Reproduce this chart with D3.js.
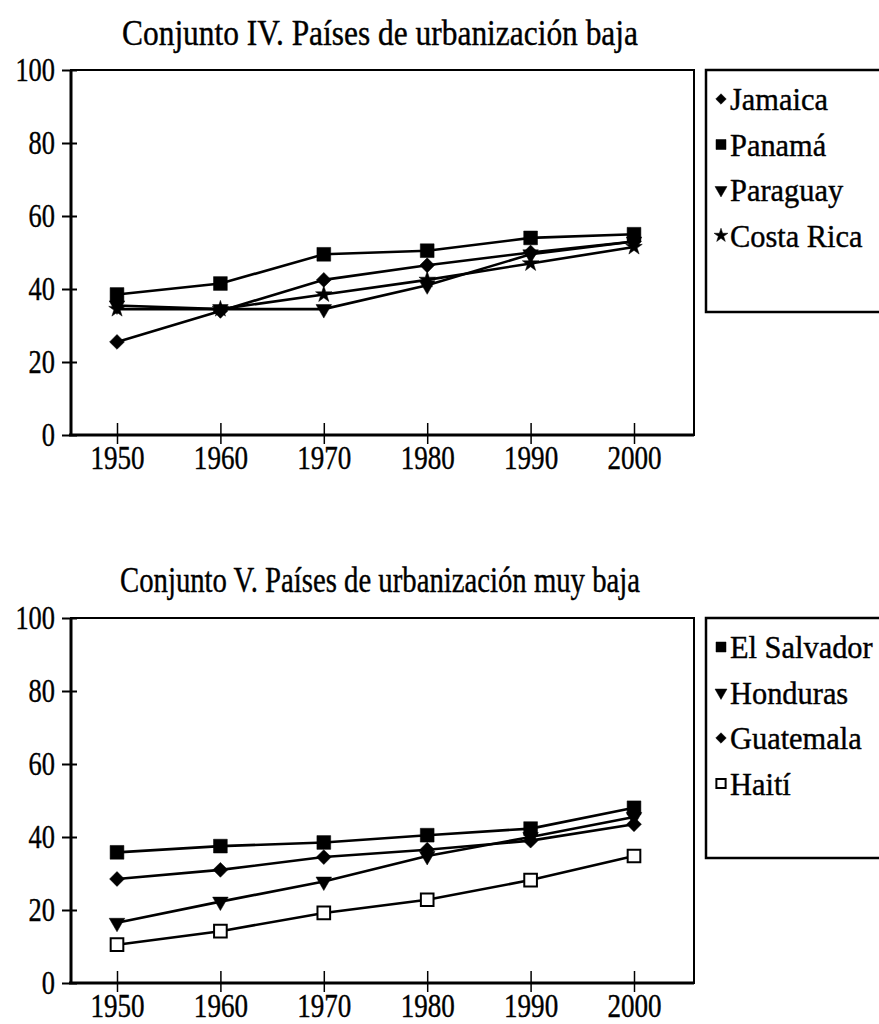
<!DOCTYPE html>
<html>
<head>
<meta charset="utf-8">
<script src="https://cdn.jsdelivr.net/npm/d3@7"></script>
<style>
  body { margin: 0; background: #fff; }
  text { font-family: "Liberation Serif", "DejaVu Serif", serif; fill: #000; stroke: #000; stroke-width: 0.4; }
</style>
</head>
<body>
<div id="chart"></div>
<script>
// shared axes
var years = [1950, 1960, 1970, 1980, 1990, 2000];
var yTicks = [0, 20, 40, 60, 80, 100];

// Conjunto IV
var titleIV = "Conjunto IV. Países de urbanización baja";
var namesIV = ["Jamaica", "Panamá", "Paraguay", "Costa Rica"];
var jamaica = [25.5, 34, 42.5, 46.5, 50, 53];
var panama = [38.5, 41.5, 49.5, 50.5, 54, 55];
var paraguay = [35.5, 34.5, 34.5, 41, 49.5, 53];
var costaRica = [34.5, 34.5, 38.5, 42.5, 47, 51.5];

// Conjunto V
var titleV = "Conjunto V. Países de urbanización muy baja";
var namesV = ["El Salvador", "Honduras", "Guatemala", "Haití"];
var elSalvador = [35.8, 37.5, 38.5, 40.5, 42.3, 48];
var honduras = [16.5, 22.3, 27.8, 34.8, 40, 45.5];
var guatemala = [28.5, 31, 34.5, 36.5, 39, 43.5];
var haiti = [10.5, 14.2, 19.2, 22.8, 28.2, 34.8];

var svg = d3.select("#chart")
  .append("svg")
    .attr("width", 879)
    .attr("height", 1024);

svg.append("rect").attr("width", 879).attr("height", 1024).attr("fill", "#fff");

// marker shapes: [type, size in plot, size in legend, rotation, open?]
var shapes = {
  diamond:  { type: d3.symbolSquare,   big: 110, small: 55,  rot: 45,  open: false },
  square:   { type: d3.symbolSquare,   big: 190, small: 100, rot: 0,   open: false },
  triangle: { type: d3.symbolTriangle, big: 105, small: 62,  rot: 180, open: false },
  star:     { type: d3.symbolStar,     big: 85,  small: 60,  rot: 0,   open: false },
  open:     { type: d3.symbolSquare,   big: 160, small: 85,  rot: 0,   open: true }
};

// squeeze text horizontally like the condensed print face
function condense(sel, k) {
  sel.each(function() {
    var len = this.getComputedTextLength();
    d3.select(this)
      .attr("textLength", len * k)
      .attr("lengthAdjust", "spacingAndGlyphs");
  });
}

function marker(g, shape, x, y, big) {
  var s = shapes[shape];
  g.append("path")
    .attr("d", d3.symbol().type(s.type).size(big ? s.big : s.small)())
    .attr("transform", "translate(" + x + "," + y + ") rotate(" + s.rot + ")")
    .attr("fill", s.open ? "#fff" : "#000")
    .attr("stroke", "#000")
    .attr("stroke-width", s.open ? 2 : 0.5);
}

function panel(cfg) {
  var left = 71, right = 694;
  var x = d3.scaleLinear().domain([1950, 2000]).range([117, 634]);
  var y = d3.scaleLinear().domain([0, 100]).range([cfg.bottom, cfg.top]);

  // title
  svg.append("text")
    .attr("x", 380)
    .attr("y", cfg.titleY)
    .attr("text-anchor", "middle")
    .attr("font-size", 36)
    .text(cfg.title)
    .attr("textLength", cfg.titleW)
    .attr("lengthAdjust", "spacingAndGlyphs");

  // plot frame
  svg.append("rect")
    .attr("x", left).attr("y", cfg.top)
    .attr("width", right - left).attr("height", cfg.bottom - cfg.top)
    .attr("fill", "none").attr("stroke", "#000").attr("stroke-width", 2);
  svg.append("line")
    .attr("x1", left).attr("x2", left).attr("y1", cfg.top).attr("y2", cfg.bottom)
    .attr("stroke", "#000").attr("stroke-width", 3);
  svg.append("line")
    .attr("x1", left - 2).attr("x2", right).attr("y1", cfg.bottom).attr("y2", cfg.bottom)
    .attr("stroke", "#000").attr("stroke-width", 3);

  // y axis
  var yAxis = svg.append("g")
    .attr("transform", "translate(" + left + ",0)")
    .call(d3.axisLeft(y).tickValues(yTicks).tickSize(9).tickPadding(7))
  yAxis.select(".domain").remove();
  yAxis.selectAll(".tick line").attr("x2", -9).attr("x1", 6).attr("stroke-width", 2);
  yAxis.selectAll("text")
    .attr("font-family", "Liberation Serif")
    .attr("font-size", 33)
    .attr("fill", "#000")
    .call(condense, 0.8);

  // x axis
  var xAxis = svg.append("g")
    .attr("transform", "translate(0," + cfg.bottom + ")")
    .call(d3.axisBottom(x).tickValues(years).tickFormat(d3.format("d")).tickSize(9).tickPadding(2))
  xAxis.select(".domain").remove();
  xAxis.selectAll(".tick line").attr("y1", -12).attr("y2", 9).attr("stroke-width", 1.5);
  xAxis.selectAll("text")
    .attr("font-family", "Liberation Serif")
    .attr("font-size", 33)
    .attr("fill", "#000")
    .call(condense, 0.82);

  // series
  var line = d3.line()
    .x(function(d, i) { return x(years[i]); })
    .y(function(d) { return y(d); });

  cfg.series.forEach(function(s) {
    svg.append("path")
      .datum(s.values)
      .attr("fill", "none")
      .attr("stroke", "#000")
      .attr("stroke-width", 2.6)
      .attr("d", line);
  });
  cfg.series.forEach(function(s) {
    var g = svg.append("g");
    s.values.forEach(function(v, i) {
      marker(g, s.shape, x(years[i]), y(v), true);
    });
  });

  // legend
  svg.append("rect")
    .attr("x", 706).attr("y", cfg.top)
    .attr("width", 200).attr("height", cfg.legendH)
    .attr("fill", "none").attr("stroke", "#000").attr("stroke-width", 2.5);

  var lg = svg.append("g");
  cfg.series.forEach(function(s, i) {
    var cy = cfg.top + 29 + i * 45.5;
    marker(lg, s.shape, 721, cy, false);
    lg.append("text")
      .attr("x", 730)
      .attr("y", cy + 11)
      .attr("font-size", 32)
      .text(s.name)
      .call(condense, 0.95);
  });
}

panel({
  title: titleIV, titleY: 45, titleW: 516,
  top: 70, bottom: 435, legendH: 242,
  series: [
    { name: namesIV[0], values: jamaica, shape: "diamond" },
    { name: namesIV[1], values: panama, shape: "square" },
    { name: namesIV[2], values: paraguay, shape: "triangle" },
    { name: namesIV[3], values: costaRica, shape: "star" }
  ]
});

panel({
  title: titleV, titleY: 592, titleW: 520,
  top: 618, bottom: 983, legendH: 240,
  series: [
    { name: namesV[0], values: elSalvador, shape: "square" },
    { name: namesV[1], values: honduras, shape: "triangle" },
    { name: namesV[2], values: guatemala, shape: "diamond" },
    { name: namesV[3], values: haiti, shape: "open" }
  ]
});
</script>
</body>
</html>
